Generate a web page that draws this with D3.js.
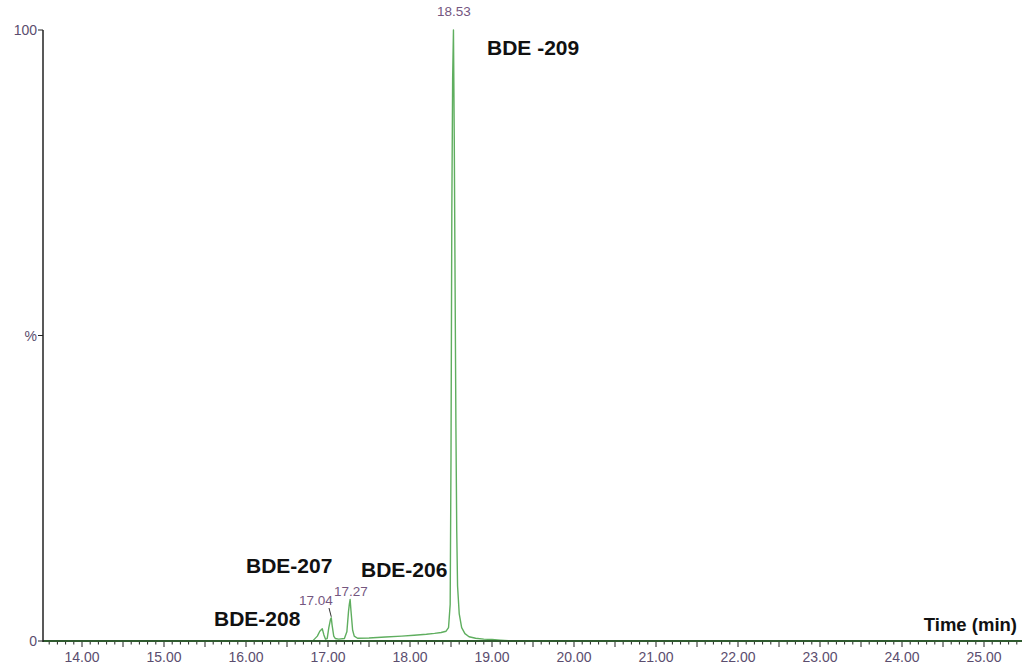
<!DOCTYPE html>
<html>
<head>
<meta charset="utf-8">
<script src="https://cdn.jsdelivr.net/npm/d3@7"></script>
<style>
  body { margin: 0; background: #fff; }
  svg { font-family: "Liberation Sans", Arial, sans-serif; }
</style>
</head>
<body>
<svg id="chart" width="1028" height="668"></svg>
<script>
// chromatogram trace: retention time (min) and relative abundance (%)
var times = [13.52, 14.5, 15.5, 16.5, 16.82, 16.87, 16.9, 16.93, 16.95, 16.97, 16.99, 17.01, 17.03, 17.04, 17.05, 17.07, 17.09, 17.13, 17.2, 17.23, 17.25, 17.26, 17.27, 17.28, 17.3, 17.32, 17.36, 17.5, 17.7, 17.9, 18.05, 18.2, 18.3, 18.38, 18.44, 18.47, 18.49, 18.5, 18.51, 18.52, 18.53, 18.54, 18.55, 18.56, 18.57, 18.58, 18.6, 18.63, 18.67, 18.72, 18.8, 18.9, 19.0, 19.1, 19.2, 20.0, 22.0, 25.46];
var abundance = [0, 0, 0, 0, 0.1, 0.8, 1.6, 2.0, 1.0, 0.3, 0.4, 2.2, 3.5, 3.8, 2.6, 0.8, 0.4, 0.3, 0.4, 1.5, 4.8, 6.0, 6.8, 5.0, 1.8, 0.8, 0.45, 0.5, 0.65, 0.8, 0.95, 1.1, 1.25, 1.4, 1.6, 2.2, 6, 30, 70, 92, 100, 82, 58, 35, 18, 9, 4.5, 2.2, 1.2, 0.7, 0.45, 0.3, 0.25, 0.15, 0.05, 0, 0, 0];

// labelled peaks
var peakTimes = ['17.04', '17.27', '18.53'];
var peakHeights = [3.8, 6.8, 100];

// compound annotations
var compounds = ['BDE-208', 'BDE-207', 'BDE-206', 'BDE -209'];

var xTicks = [14, 15, 16, 17, 18, 19, 20, 21, 22, 23, 24, 25];
var yTicks = [0, 50, 100];
var yTickLabels = ['0', '%', '100'];

var svg = d3.select('#chart');

var x = d3.scaleLinear().domain([14, 25]).range([82, 984]);
var y = d3.scaleLinear().domain([0, 100]).range([641, 30]);
var xMin = x.invert(43), xMax = x.invert(1022);

var textColor = '#5b4d6e';

// trace
var line = d3.line()
  .x(function(d, i) { return x(times[i]); })
  .y(function(d) { return y(d); });

svg.append('path')
  .datum(abundance)
  .attr('d', line)
  .attr('fill', 'none')
  .attr('stroke', '#5fae5f')
  .attr('stroke-width', 1.4)
  .attr('stroke-linejoin', 'round');

// x axis
var minorTicks = d3.range(Math.ceil(xMin * 10), Math.floor(xMax * 10) + 1).map(function(v) { return v / 10; });
var xg = svg.append('g').attr('transform', 'translate(0,' + y(0) + ')');
xg.selectAll('.minor').data(minorTicks).enter().append('line')
  .attr('x1', function(d) { return x(d); })
  .attr('x2', function(d) { return x(d); })
  .attr('y1', 0)
  .attr('y2', function(d) { return Math.abs(d * 2 - Math.round(d * 2)) < 1e-6 ? 6 : 3.5; })
  .attr('stroke', '#222')
  .attr('stroke-width', 1);
xg.append('line')
  .attr('x1', 43).attr('x2', 1022)
  .attr('stroke', '#2f5a2f').attr('stroke-width', 2);
xg.selectAll('.lbl').data(xTicks).enter().append('text')
  .attr('x', function(d) { return x(d); })
  .attr('y', 21)
  .attr('text-anchor', 'middle')
  .attr('font-size', 14)
  .attr('fill', textColor)
  .text(function(d) { return d3.format('.2f')(d); });

// y axis
var yg = svg.append('g');
yg.append('line')
  .attr('x1', 43).attr('x2', 43)
  .attr('y1', y(100)).attr('y2', y(0) + 1)
  .attr('stroke', '#222').attr('stroke-width', 1.5);
yg.selectAll('.tk').data(yTicks).enter().append('line')
  .attr('x1', 38).attr('x2', 43)
  .attr('y1', function(d) { return y(d); })
  .attr('y2', function(d) { return y(d); })
  .attr('stroke', '#222');
yg.selectAll('.lbl').data(yTicks).enter().append('text')
  .attr('x', 37)
  .attr('y', function(d) { return y(d) + 5; })
  .attr('text-anchor', 'end')
  .attr('font-size', 14)
  .attr('fill', textColor)
  .text(function(d, i) { return yTickLabels[i]; });

// peak labels
var peakLabelPos = [[316, 605], [351, 596], [454, 16]];
svg.selectAll('.peak').data(peakTimes).enter().append('text')
  .attr('x', function(d, i) { return peakLabelPos[i][0]; })
  .attr('y', function(d, i) { return peakLabelPos[i][1]; })
  .attr('text-anchor', 'middle')
  .attr('font-size', 13.5)
  .attr('fill', '#74567f')
  .text(function(d) { return d; });
// leader for 17.04
svg.append('line')
  .attr('x1', 329).attr('y1', 608)
  .attr('x2', x(17.04)).attr('y2', y(peakHeights[0]) - 1)
  .attr('stroke', '#333').attr('stroke-width', 1);

// compound names
var compoundPos = [[214, 626], [246, 573], [361, 577], [487, 55]];
svg.selectAll('.cmp').data(compounds).enter().append('text')
  .attr('x', function(d, i) { return compoundPos[i][0]; })
  .attr('y', function(d, i) { return compoundPos[i][1]; })
  .attr('font-size', 21)
  .attr('font-weight', 'bold')
  .attr('fill', '#111')
  .text(function(d) { return d; });

svg.append('text')
  .attr('x', 1017).attr('y', 631)
  .attr('text-anchor', 'end')
  .attr('font-size', 18.5)
  .attr('font-weight', 'bold')
  .attr('fill', '#111')
  .text('Time (min)');
</script>
</body>
</html>
